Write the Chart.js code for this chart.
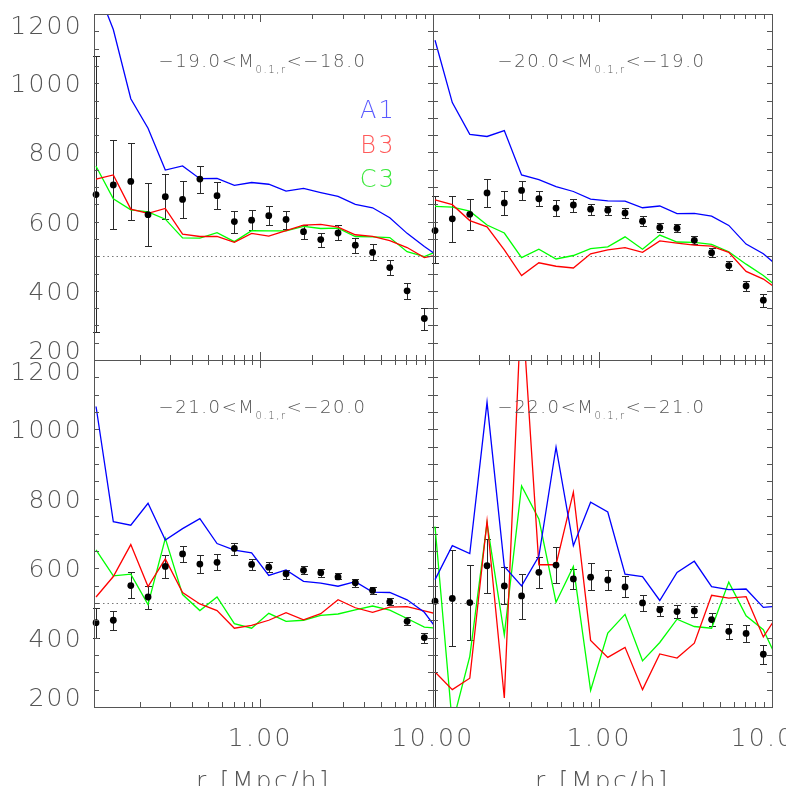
<!DOCTYPE html>
<html>
<head>
<meta charset="utf-8">
<title>wp residual panels</title>
<script src="https://cdn.jsdelivr.net/npm/chart.js@4.4.0/dist/chart.umd.min.js"></script>
<style>
  html, body { margin: 0; padding: 0; background: #fff; }
  #wrap { position: relative; width: 786px; height: 786px; overflow: hidden; }
  #wrap canvas { position: absolute; left: 0; top: 0; }
</style>
</head>
<body>
<div id="wrap">
  <canvas id="p18" width="786" height="786"></canvas>
  <canvas id="p19" width="786" height="786"></canvas>
  <canvas id="p20" width="786" height="786"></canvas>
  <canvas id="p21" width="786" height="786"></canvas>
</div>
<script>
// bin centres in r_p [Mpc/h]; the 21st one is only reached by the model curves
const rp = [0.112, 0.141, 0.178, 0.224, 0.282, 0.355, 0.447, 0.562, 0.708, 0.891,
            1.12, 1.41, 1.78, 2.24, 2.82, 3.55, 4.47, 5.62, 7.08, 8.91, 11.2];

const yTicks = [200, 400, 600, 800, 1000, 1200];
const xTickLabels = [[1, '1.00'], [10, '10.00']];
const refLevel = 500;

// -19 < M < -18
const obs18 = [678, 706, 716, 620, 672, 664, 723, 675, 600, 604, 617, 606, 571, 548, 567, 532, 511, 467, 400, 320];
const lo18  = [282, 578, 605, 530, 607, 610, 684, 636, 567, 575, 589, 579, 550, 528, 547, 510, 488, 445, 376, 287];
const hi18  = [1078, 835, 827, 711, 737, 717, 762, 714, 632, 634, 644, 632, 590, 566, 589, 554, 534, 490, 422, 350];
const a1_18 = [1283, 1155, 955, 870, 749, 761, 724, 725, 705, 713, 708, 688, 696, 684, 673, 650, 640, 611, 566, 528, 494];
const b3_18 = [723, 735, 636, 624, 638, 564, 557, 557, 540, 566, 558, 574, 590, 592, 584, 562, 557, 545, 525, 496, 506];
const c3_18 = [760, 666, 634, 628, 607, 553, 552, 568, 542, 574, 573, 573, 586, 580, 581, 557, 556, 554, 513, 499, 519];

// -20 < M < -19
const obs19 = [574, 608, 621, 683, 654, 690, 666, 639, 648, 636, 633, 625, 601, 583, 581, 546, 510, 473, 414, 373];
const lo19  = [480, 540, 576, 643, 620, 663, 644, 617, 627, 619, 618, 609, 588, 571, 569, 534, 497, 461, 400, 353];
const hi19  = [673, 675, 665, 724, 689, 716, 688, 662, 665, 652, 646, 638, 615, 595, 592, 558, 523, 486, 427, 391];
const a1_19 = [1124, 944, 852, 846, 863, 735, 721, 701, 687, 665, 660, 659, 640, 645, 623, 624, 616, 589, 535, 507, 465];
const b3_19 = [663, 649, 603, 585, 518, 444, 481, 471, 466, 507, 518, 525, 511, 544, 538, 532, 529, 511, 456, 434, 398];
const c3_19 = [644, 642, 630, 590, 567, 496, 520, 492, 502, 522, 527, 556, 520, 561, 541, 540, 534, 513, 477, 444, 404];

// -21 < M < -20
const obs20 = [443, 450, 550, 517, 605, 641, 612, 617, 657, 611, 603, 584, 594, 587, 575, 558, 536, 503, 447, 400];
const lo20  = [400, 423, 513, 482, 573, 617, 587, 594, 638, 594, 589, 568, 584, 576, 568, 547, 526, 493, 435, 384];
const hi20  = [485, 478, 588, 550, 637, 665, 637, 640, 674, 626, 617, 596, 605, 598, 586, 568, 545, 514, 458, 413];
const a1_20 = [1066, 734, 724, 787, 681, 714, 743, 671, 652, 644, 579, 595, 562, 557, 548, 561, 531, 530, 509, 473, 407];
const b3_20 = [517, 576, 668, 547, 627, 530, 497, 478, 427, 435, 450, 472, 451, 469, 509, 486, 473, 488, 489, 477, 465];
const c3_20 = [653, 578, 583, 495, 686, 524, 478, 517, 440, 427, 470, 447, 450, 464, 468, 480, 491, 479, 455, 430, 426];

// -22 < M < -21
const obs21 = [505, 513, 501, 607, 549, 520, 588, 609, 569, 574, 566, 546, 500, 480, 475, 477, 452, 418, 412, 352];
const lo21  = [190, 375, 394, 528, 496, 455, 543, 556, 540, 536, 536, 518, 477, 461, 456, 459, 433, 397, 388, 325];
const hi21  = [720, 653, 609, 684, 603, 584, 633, 661, 597, 615, 594, 577, 522, 492, 495, 492, 471, 440, 435, 378];
const a1_21 = [567, 665, 642, 1078, 605, 549, 634, 949, 665, 790, 762, 583, 576, 507, 588, 620, 547, 538, 540, 487, 491];
const b3_21 = [301, 250, 283, 736, 226, 1380, 610, 610, 819, 392, 343, 372, 250, 353, 341, 384, 522, 514, 518, 402, 478];
const c3_21 = [720, 150, 346, 730, 408, 837, 742, 502, 605, 248, 413, 467, 333, 386, 453, 432, 427, 560, 463, 423, 317];

const magBright = ['\u221219.0', '\u221220.0', '\u221221.0', '\u221222.0'];
const magFaint  = ['\u221218.0', '\u221219.0', '\u221220.0', '\u221221.0'];
const modelNames = ['A1', 'B3', 'C3'];
const modelColors = ['#0000ff', '#ff0000', '#00ff00'];
const legendColors = ['#5a5aff', '#ff5a5a', '#3ce83c'];

const xMinorTicks = [0.2, 0.3, 0.4, 0.5, 0.6, 0.7, 0.8, 0.9, 2, 3, 4, 5, 6, 7, 8, 9];
const xMajorTicks = [1, 10];

const FONT = '"DejaVu Sans", sans-serif';
const TXT = '#555';
const FRAME = '#555';

// draws a run of [text, isSub] pieces, centred or right aligned at x
function textRuns(ctx, items, x, baseY, size, color, align) {
  ctx.save();
  ctx.fillStyle = color;
  ctx.textAlign = 'left';
  ctx.textBaseline = 'alphabetic';
  if ('letterSpacing' in ctx) ctx.letterSpacing = (size * 0.09).toFixed(1) + 'px';
  const fonts = items.map(([, sub]) => `200 ${sub ? Math.round(size * 0.56) : size}px ${FONT}`);
  let total = 0;
  const widths = items.map(([t], i) => {
    ctx.font = fonts[i];
    const w = ctx.measureText(t).width;
    total += w;
    return w;
  });
  let xx = align === 'right' ? x - total : x - total / 2;
  items.forEach(([t, sub], i) => {
    ctx.font = fonts[i];
    ctx.fillText(t, xx, baseY + (sub ? size * 0.33 : 0));
    xx += widths[i];
  });
  ctx.restore();
}

const panelDeco = {
  id: 'panelDeco',
  beforeDatasetsDraw(chart, args, o) {
    const { ctx, chartArea: a, scales: { x, y } } = chart;
    ctx.save();
    // dotted level
    ctx.strokeStyle = '#777';
    ctx.lineWidth = 1;
    ctx.setLineDash([1.5, 3]);
    const yr = Math.round(y.getPixelForValue(refLevel)) + 0.5;
    ctx.beginPath();
    ctx.moveTo(a.left, yr);
    ctx.lineTo(a.right, yr);
    ctx.stroke();
    ctx.setLineDash([]);

    // error bars
    ctx.beginPath();
    ctx.rect(a.left - 5, a.top, a.right - a.left + 10, a.bottom - a.top);
    ctx.clip();
    ctx.strokeStyle = '#2a2a2a';
    const cap = 3.5;
    o.lo.forEach((l, i) => {
      const px = Math.round(x.getPixelForValue(rp[i])) + 0.5;
      const y1 = Math.round(y.getPixelForValue(l)) + 0.5;
      const y2 = Math.round(y.getPixelForValue(o.hi[i])) + 0.5;
      ctx.beginPath();
      ctx.moveTo(px, y1); ctx.lineTo(px, y2);
      ctx.moveTo(px - cap, y1); ctx.lineTo(px + cap, y1);
      ctx.moveTo(px - cap, y2); ctx.lineTo(px + cap, y2);
      ctx.stroke();
    });
    ctx.restore();
  },
  afterDraw(chart, args, o) {
    const { ctx, chartArea: a, scales: { x, y } } = chart;
    ctx.save();
    ctx.strokeStyle = FRAME;
    ctx.lineWidth = 1;
    ctx.strokeRect(a.left + 0.5, a.top + 0.5, a.right - a.left, a.bottom - a.top);

    ctx.beginPath();
    for (let v = 250; v < 1200; v += 50) {
      const py = Math.round(y.getPixelForValue(v)) + 0.5;
      ctx.moveTo(a.left, py); ctx.lineTo(a.left + 5, py);
      ctx.moveTo(a.right, py); ctx.lineTo(a.right - 5, py);
    }
    xMinorTicks.forEach(v => {
      const px = Math.round(x.getPixelForValue(v)) + 0.5;
      ctx.moveTo(px, a.bottom); ctx.lineTo(px, a.bottom - 5);
      ctx.moveTo(px, a.top); ctx.lineTo(px, a.top + 5);
    });
    xMajorTicks.forEach(v => {
      const px = Math.round(x.getPixelForValue(v)) + 0.5;
      ctx.moveTo(px, a.bottom); ctx.lineTo(px, a.bottom - 8);
      ctx.moveTo(px, a.top); ctx.lineTo(px, a.top + 8);
    });
    ctx.stroke();
    ctx.restore();

    if (o.yLabels) {
      yTicks.forEach(v => {
        let py = y.getPixelForValue(v);
        py = Math.min(Math.max(py, a.top + 10.5), a.bottom - 10);
        textRuns(ctx, [[String(v), false]], a.left - 11, py + 9, 25, TXT, 'right');
      });
    }
    if (o.xLabels) {
      xTickLabels.forEach(([v, t]) => {
        textRuns(ctx, [[t, false]], x.getPixelForValue(v), 746, 25, TXT, 'center');
      });
      textRuns(ctx, [['r', false], ['p', true], ['[Mpc/h]', false]], (a.left + a.right) / 2, 789, 25, TXT, 'center');
    }

    textRuns(ctx, [[o.bright + '<M', false], ['0.1,r', true], ['<' + o.faint, false]],
      (a.left + a.right) / 2 - 1, a.top + 53, 18, TXT, 'center');

    if (o.legend) {
      modelNames.forEach((n, i) => {
        textRuns(ctx, [[n, false]], 378, a.top + 104 + i * 34.5, 24, legendColors[i], 'center');
      });
    }
  }
};

function pts(vals) {
  return vals.map((v, i) => ({ x: rp[i], y: v }));
}

function makePanel(id, pad, obs, lo, hi, models, deco) {
  const lines = models.map((m, i) => ({
    data: pts(m),
    borderColor: modelColors[i],
    borderWidth: 1.3,
    pointRadius: 0,
    fill: false,
    tension: 0,
    clip: 0
  }));
  new Chart(document.getElementById(id), {
    type: 'line',
    data: {
      datasets: [{
        type: 'scatter',
        data: pts(obs),
        pointRadius: 3.4,
        backgroundColor: '#000',
        borderColor: '#000',
        borderWidth: 0,
        clip: 6
      }].concat(lines)
    },
    options: {
      responsive: false,
      animation: false,
      devicePixelRatio: 1,
      layout: { padding: pad },
      scales: {
        x: { type: 'logarithmic', min: 0.109, max: 10, bounds: 'data', display: false },
        y: { type: 'linear', min: 200, max: 1200, display: false }
      },
      plugins: {
        legend: { display: false },
        tooltip: { enabled: false },
        panelDeco: Object.assign({ lo: lo, hi: hi }, deco)
      }
    },
    plugins: [panelDeco]
  });
}

makePanel('p18', { left: 94, top: 14, right: 353, bottom: 426 }, obs18, lo18, hi18, [a1_18, b3_18, c3_18],
  { bright: magBright[0], faint: magFaint[0], yLabels: true, xLabels: false, legend: true });
makePanel('p19', { left: 433, top: 14, right: 14, bottom: 426 }, obs19, lo19, hi19, [a1_19, b3_19, c3_19],
  { bright: magBright[1], faint: magFaint[1], yLabels: false, xLabels: false, legend: false });
makePanel('p20', { left: 94, top: 360, right: 353, bottom: 79 }, obs20, lo20, hi20, [a1_20, b3_20, c3_20],
  { bright: magBright[2], faint: magFaint[2], yLabels: true, xLabels: true, legend: false });
makePanel('p21', { left: 433, top: 360, right: 14, bottom: 79 }, obs21, lo21, hi21, [a1_21, b3_21, c3_21],
  { bright: magBright[3], faint: magFaint[3], yLabels: false, xLabels: true, legend: false });
</script>
</body>
</html>
